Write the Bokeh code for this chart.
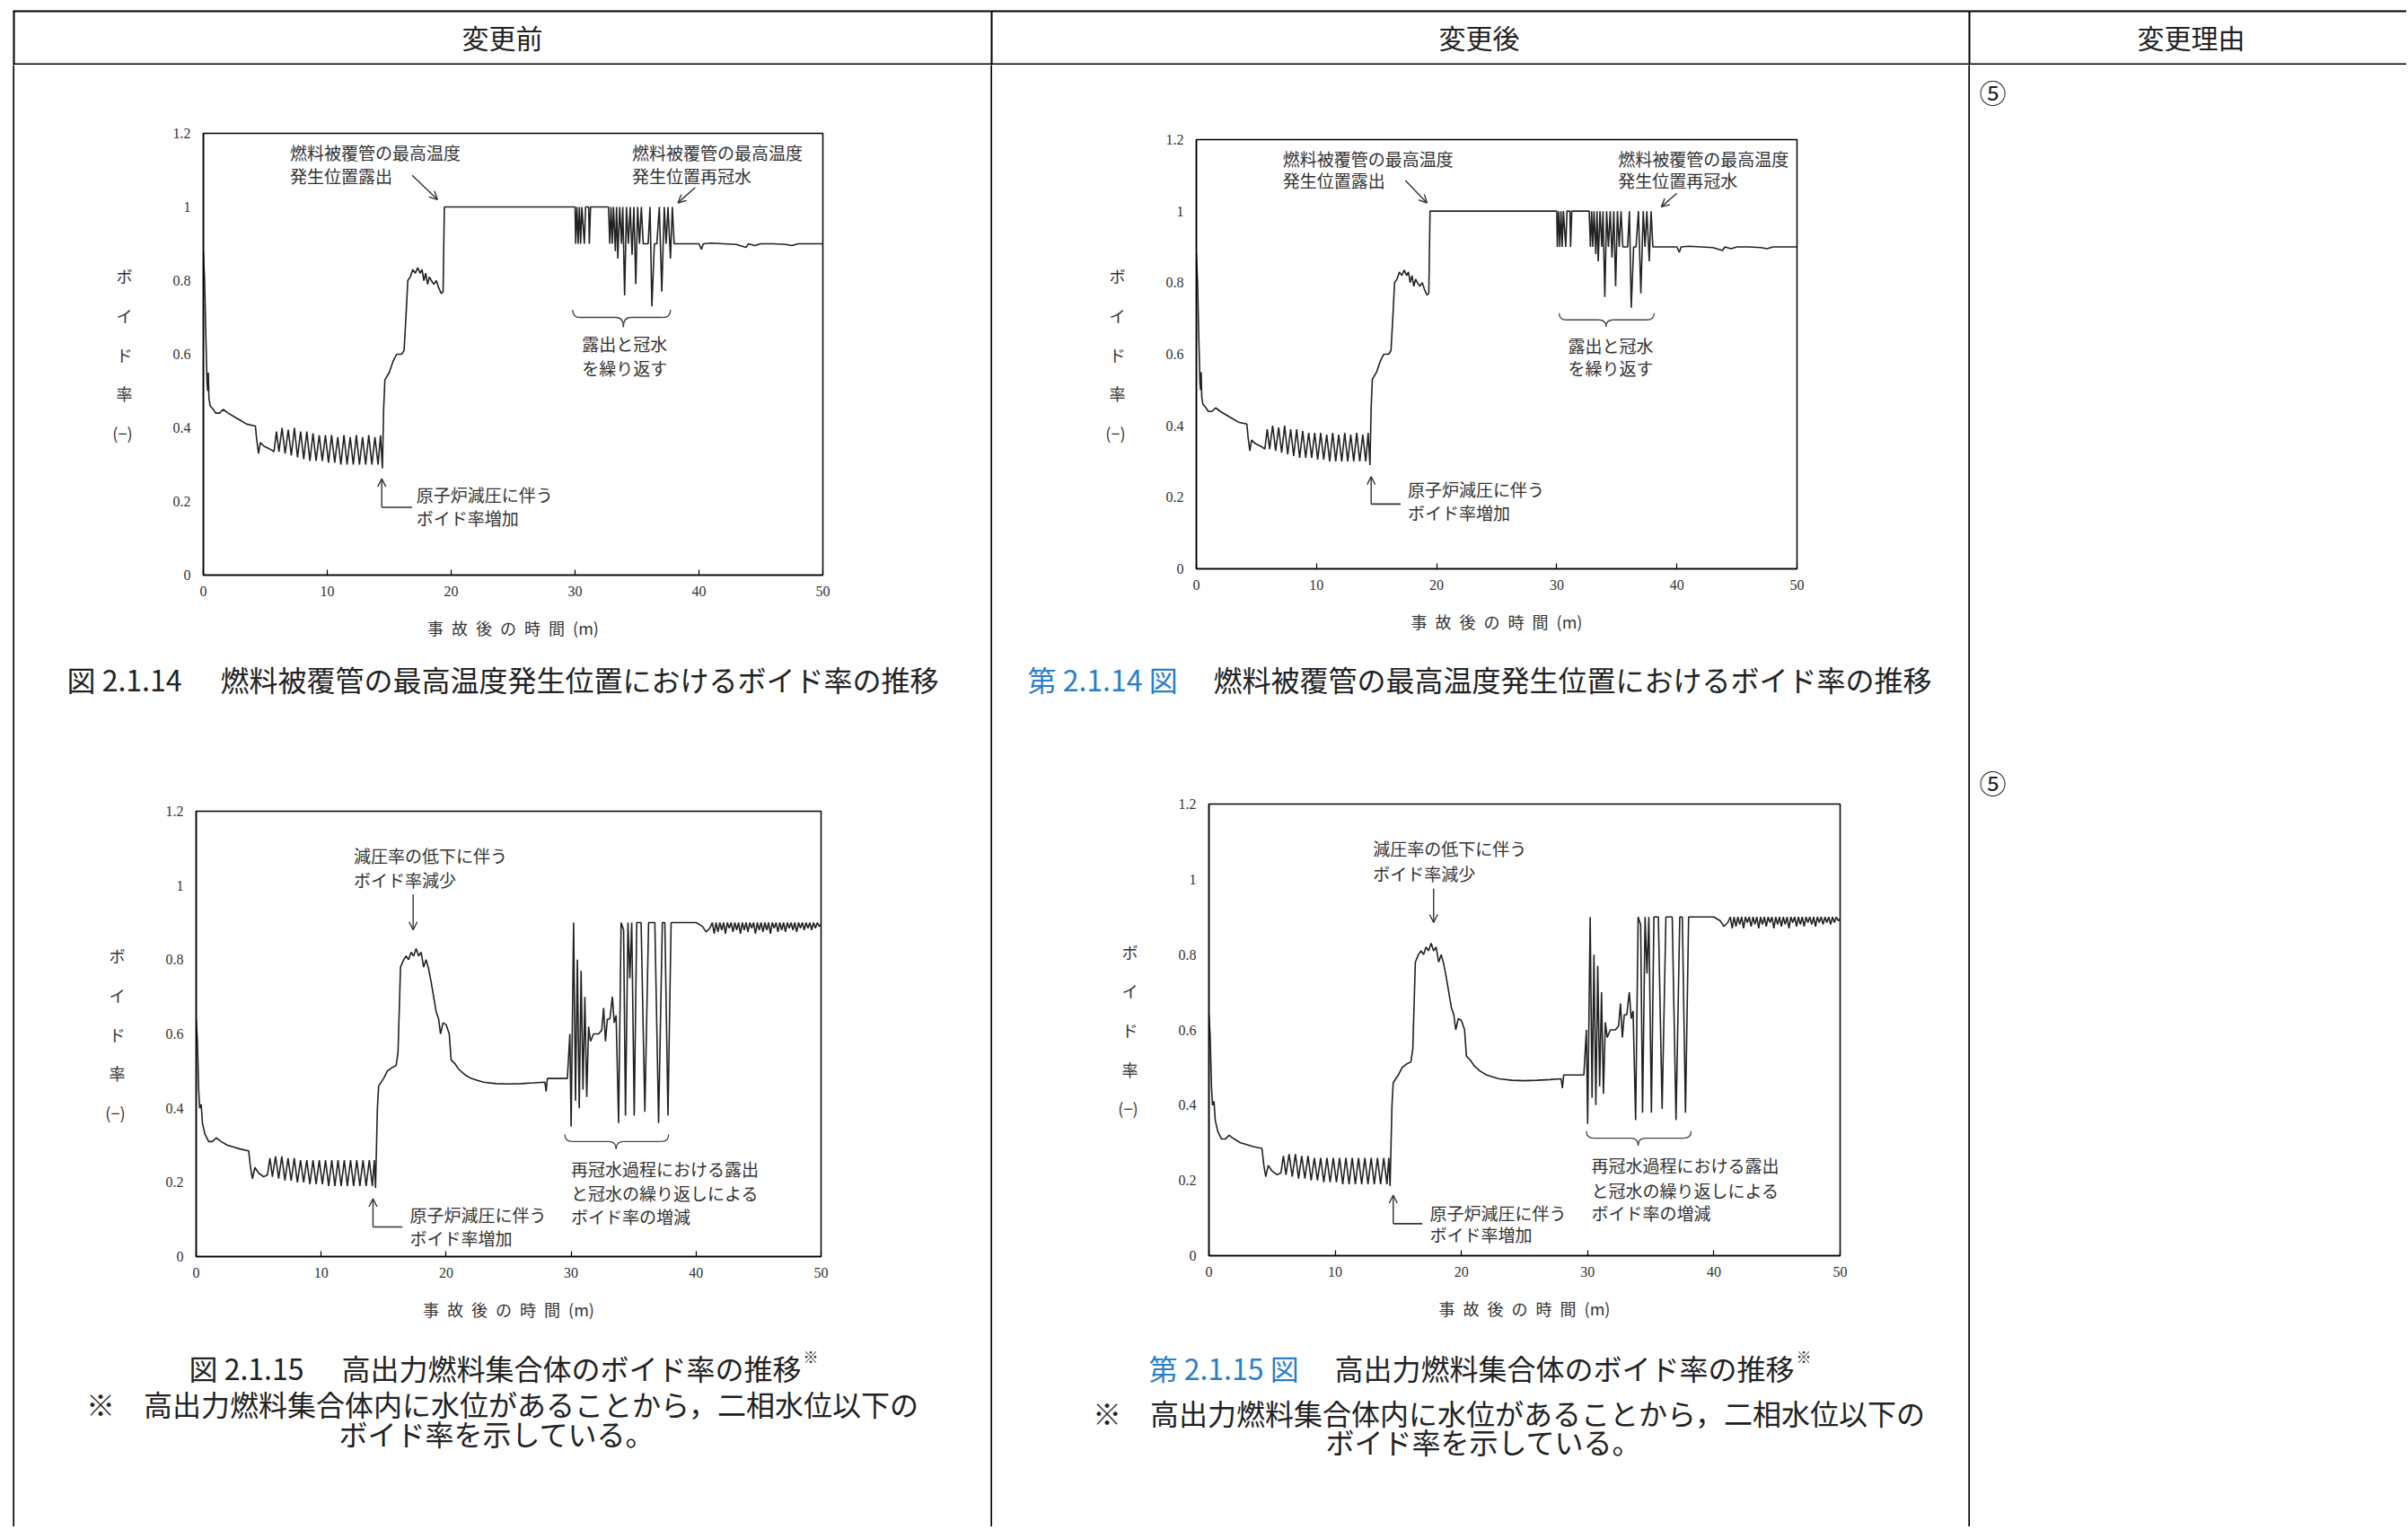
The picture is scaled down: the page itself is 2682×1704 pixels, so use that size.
from bokeh.plotting import figure
from bokeh.layouts import column, row
from bokeh.models import Range1d, Arrow, OpenHead, FixedTicker, NumeralTickFormatter, Spacer
from bokeh.core.properties import value
from bokeh.embed import file_html
from bokeh.resources import INLINE

JP = "Noto Sans CJK JP"
NUM = "Liberation Serif"
INK = "#222222"
BLUE = "#2a7fc9"

# ---------------- data ----------------
# void fraction at the location of peak cladding temperature
t_clad = [0.0, 0.1, 0.2, 0.3, 0.35, 0.4, 0.45, 0.55, 0.8, 1.0, 1.3, 1.6, 2.0, 2.5, 3.0, 3.5, 4.2, 4.3, 4.45, 4.6, 4.9, 5.2, 5.5, 5.7,
          5.9, 6.1, 6.35, 6.6, 6.85, 7.1, 7.35, 7.6, 7.85, 8.1, 8.35, 8.6, 8.85, 9.1, 9.35, 9.6, 9.85, 10.1, 10.35, 10.6,
          10.85, 11.1, 11.35, 11.6, 11.85, 12.1, 12.35, 12.6, 12.85, 13.1, 13.35, 13.6, 13.85, 14.1, 14.3, 14.45,
          14.55, 14.65, 15.0, 15.3, 15.6, 16.0, 16.2, 16.35, 16.5, 16.7, 16.9, 17.1, 17.3, 17.5, 17.65, 17.8, 17.95, 18.1,
          18.25, 18.4, 18.6, 18.8, 19.0, 19.2, 19.35, 19.45,
          30.0, 30.05, 30.15, 30.25, 30.35, 30.45, 30.55, 30.75, 30.85, 31.1, 31.15, 31.25,
          32.7, 32.8, 32.9, 33.0, 33.1, 33.25, 33.35, 33.45, 33.6, 33.75, 33.85, 34.0, 34.15, 34.3, 34.45, 34.6, 34.75,
          34.9, 35.05, 35.2, 35.35, 35.5, 35.9, 36.05, 36.2, 36.4, 36.6, 36.8, 37.0, 37.2, 37.35, 37.5, 37.7, 37.85, 38.0,
          39.0, 40.0, 40.2, 40.35, 41.0, 42.0, 43.0, 43.8, 44.0, 44.5, 45.0, 46.0, 47.0, 47.5, 48.0, 49.0, 50.0]
v_clad = [0.88, 0.80, 0.65, 0.52, 0.50, 0.55, 0.48, 0.46, 0.45, 0.44, 0.44, 0.45, 0.44, 0.43, 0.42, 0.41, 0.405, 0.37, 0.33, 0.36, 0.35, 0.345, 0.34, 0.335,
          0.39, 0.335, 0.40, 0.33, 0.395, 0.325, 0.40, 0.32, 0.39, 0.315, 0.39, 0.31, 0.385, 0.31, 0.38, 0.31, 0.38, 0.305, 0.38, 0.305,
          0.375, 0.30, 0.38, 0.30, 0.375, 0.30, 0.38, 0.30, 0.375, 0.30, 0.38, 0.30, 0.375, 0.30, 0.38, 0.29,
          0.45, 0.53, 0.55, 0.58, 0.60, 0.60, 0.61, 0.70, 0.80, 0.81, 0.83, 0.82, 0.835, 0.82, 0.83, 0.80, 0.82, 0.79,
          0.81, 0.80, 0.79, 0.80, 0.78, 0.765, 0.77, 1.0,
          1.0, 0.9, 1.0, 0.9, 1.0, 0.9, 1.0, 0.9, 1.0, 1.0, 0.9, 1.0,
          1.0, 0.9, 1.0, 0.9, 1.0, 0.88, 1.0, 0.86, 1.0, 0.9, 1.0, 0.76, 1.0, 0.9, 1.0, 0.87, 1.0,
          0.79, 1.0, 0.9, 1.0, 0.9, 0.9, 1.0, 0.73, 0.9, 0.9, 1.0, 0.77, 1.0, 0.9, 1.0, 0.86, 1.0, 0.90,
          0.90, 0.90, 0.885, 0.90, 0.902, 0.90, 0.898, 0.89, 0.90, 0.895, 0.90, 0.90, 0.898, 0.895, 0.90, 0.90, 0.90]

# void fraction of the high-power fuel assembly
t_bund = [0.0, 0.1, 0.2, 0.28, 0.4, 0.5, 0.7, 1.0, 1.3, 1.6, 2.0, 2.5, 3.0, 3.5, 4.2, 4.35, 4.5, 4.7, 5.0, 5.4, 5.7,
          5.9, 6.1, 6.35, 6.6, 6.85, 7.1, 7.35, 7.6, 7.85, 8.1, 8.35, 8.6, 8.85, 9.1, 9.35, 9.6, 9.85, 10.1, 10.35, 10.6,
          10.85, 11.1, 11.35, 11.6, 11.85, 12.1, 12.35, 12.6, 12.85, 13.1, 13.35, 13.6, 13.85, 14.1, 14.25, 14.35,
          14.5, 14.6, 15.0, 15.3, 15.7, 16.0, 16.15, 16.35, 16.6, 16.8, 17.0, 17.2, 17.4, 17.6, 17.8, 18.0, 18.2, 18.4,
          18.6, 18.8, 19.0, 19.2, 19.4, 19.55, 19.75, 20.0, 20.25, 20.4, 20.7, 21.0, 21.5, 22.0, 22.5, 23.0, 24.0, 25.0,
          26.0, 27.0, 27.9, 28.0, 28.1, 28.5, 29.0, 29.7,
          29.9, 30.0, 30.2, 30.35, 30.5, 30.65, 30.8, 30.95, 31.1, 31.25, 31.4, 31.55, 31.8, 32.2, 32.45, 32.6, 32.75, 32.9,
          33.1, 33.3, 33.45, 33.6, 33.8, 34.0, 34.2, 34.35, 34.55, 34.7, 34.85, 35.05, 35.25, 35.6, 35.9, 36.2, 36.7, 37.0,
          37.3, 37.5, 37.75, 38.0,
          39.0, 40.0, 40.5, 40.8, 41.1, 41.3, 41.45, 41.6, 41.75, 41.9, 42.05, 42.2, 42.35, 42.5, 42.65, 42.8, 42.95,
          43.1, 43.25, 43.4, 43.55, 43.7, 43.85, 44.0, 44.15, 44.3, 44.45, 44.6, 44.75, 44.9, 45.05, 45.2, 45.35, 45.5,
          45.65, 45.8, 45.95, 46.1, 46.25, 46.4, 46.55, 46.7, 46.85, 47.0, 47.15, 47.3, 47.45, 47.6, 47.75, 47.9, 48.05,
          48.2, 48.35, 48.5, 48.65, 48.8, 48.95, 49.1, 49.25, 49.4, 49.55, 49.7, 49.85, 50.0]
v_bund = [0.64, 0.58, 0.45, 0.40, 0.41, 0.36, 0.33, 0.31, 0.31, 0.32, 0.31, 0.30, 0.295, 0.29, 0.285, 0.24, 0.21, 0.24, 0.225, 0.215, 0.22,
          0.265, 0.215, 0.27, 0.21, 0.27, 0.205, 0.265, 0.205, 0.265, 0.20, 0.26, 0.20, 0.26, 0.195, 0.26, 0.195, 0.26, 0.195, 0.26, 0.19,
          0.26, 0.19, 0.26, 0.19, 0.26, 0.19, 0.26, 0.19, 0.26, 0.19, 0.26, 0.19, 0.26, 0.19, 0.26, 0.185,
          0.40, 0.46, 0.48, 0.50, 0.51, 0.515, 0.55, 0.78, 0.80, 0.81, 0.80, 0.82, 0.81, 0.83, 0.81, 0.82, 0.78, 0.80,
          0.775, 0.74, 0.70, 0.66, 0.64, 0.60, 0.63, 0.625, 0.60, 0.53, 0.52, 0.505, 0.49, 0.48, 0.475, 0.47, 0.466, 0.465,
          0.466, 0.468, 0.47, 0.445, 0.48, 0.48, 0.48, 0.48,
          0.60, 0.35, 0.90, 0.42, 0.80, 0.40, 0.77, 0.45, 0.70, 0.43, 0.62, 0.58, 0.60, 0.60, 0.61, 0.67, 0.58, 0.64,
          0.64, 0.70, 0.63, 0.65, 0.36, 0.90, 0.88, 0.38, 0.90, 0.75, 0.90, 0.38, 0.90, 0.90, 0.39, 0.90, 0.90, 0.36,
          0.90, 0.90, 0.38, 0.90,
          0.90, 0.90, 0.89, 0.875, 0.885, 0.90, 0.87, 0.90, 0.875, 0.90, 0.88, 0.90, 0.87, 0.90, 0.885, 0.90, 0.875,
          0.90, 0.88, 0.90, 0.87, 0.90, 0.88, 0.90, 0.875, 0.90, 0.885, 0.90, 0.87, 0.90, 0.88, 0.90, 0.875, 0.90,
          0.88, 0.90, 0.87, 0.90, 0.885, 0.90, 0.875, 0.90, 0.88, 0.90, 0.875, 0.90, 0.885, 0.90, 0.88, 0.90, 0.875,
          0.90, 0.885, 0.90, 0.88, 0.90, 0.885, 0.90, 0.88, 0.90, 0.885, 0.90, 0.89, 0.895]

x_ticks = [0, 10, 20, 30, 40, 50]
y_ticks = [0, 0.2, 0.4, 0.6, 0.8, 1.0, 1.2]
x_label = "事\u2002故\u2002後\u2002の\u2002時\u2002間\u2002(m)"
y_label = "ボ\nイ\nド\n率\n(−)"

header_texts = ["変更前", "変更後", "変更理由"]
reason_marks = ["⑤", "⑤"]

# annotations (data units of each chart)
c1_left = dict(x=[7.0, 7.0, 34.6, 34.6, 17.2, 17.2], y=[1.149, 1.086, 1.149, 1.086, 0.22, 0.156],
               text=["燃料被覆管の最高温度", "発生位置露出", "燃料被覆管の最高温度", "発生位置再冠水", "原子炉減圧に伴う", "ボイド率増加"])
c1_center = dict(x=[34.0, 34.0], y=[0.63, 0.564], text=["露出と冠水", "を繰り返す"])
c1_arrows = [(16.85, 1.086, 18.9, 1.02), (39.7, 1.053, 38.3, 1.011), (14.4, 0.184, 14.4, 0.262)]
c1_legs = [(14.4, 0.184, 16.85, 0.184)]
c1_brace = (29.8, 37.7, 33.9, 0.721, 0.700, 0.674)

c2_left = dict(x=[7.2, 7.2, 35.1, 35.1, 17.6, 17.6], y=[1.148, 1.086, 1.148, 1.086, 0.224, 0.157],
               text=["燃料被覆管の最高温度", "発生位置露出", "燃料被覆管の最高温度", "発生位置再冠水", "原子炉減圧に伴う", "ボイド率増加"])
c2_center = dict(x=[34.5, 34.5], y=[0.625, 0.562], text=["露出と冠水", "を繰り返す"])
c2_arrows = [(17.4, 1.086, 19.2, 1.023), (40.0, 1.05, 38.7, 1.012), (14.55, 0.181, 14.55, 0.258)]
c2_legs = [(14.55, 0.181, 17.0, 0.181)]
c2_brace = (30.2, 38.1, 34.1, 0.715, 0.696, 0.677)

c3_left = dict(x=[12.6, 12.6, 17.1, 17.1, 30.0, 30.0, 30.0], y=[1.082, 1.015, 0.113, 0.051, 0.238, 0.171, 0.108],
               text=["減圧率の低下に伴う", "ボイド率減少", "原子炉減圧に伴う", "ボイド率増加",
                     "再冠水過程における露出", "と冠水の繰り返しによる", "ボイド率の増減"])
c3_center = dict(x=[], y=[], text=[])
c3_arrows = [(17.36, 0.976, 17.36, 0.88), (14.15, 0.08, 14.15, 0.156)]
c3_legs = [(14.15, 0.08, 16.5, 0.08)]
c3_brace = (29.5, 37.8, 33.6, 0.329, 0.310, 0.290)

c4_left = dict(x=[13.0, 13.0, 17.5, 17.5, 30.3, 30.3, 30.3], y=[1.083, 1.017, 0.114, 0.057, 0.241, 0.175, 0.114],
               text=["減圧率の低下に伴う", "ボイド率減少", "原子炉減圧に伴う", "ボイド率増加",
                     "再冠水過程における露出", "と冠水の繰り返しによる", "ボイド率の増減"])
c4_center = dict(x=[], y=[], text=[])
c4_arrows = [(17.8, 0.975, 17.8, 0.885), (14.6, 0.085, 14.6, 0.161)]
c4_legs = [(14.6, 0.085, 16.9, 0.085)]
c4_brace = (29.9, 38.2, 34.0, 0.331, 0.312, 0.293)

cap_14_prefix_old = "図 2.1.14"
cap_14_prefix_new = "第 2.1.14 図"
cap_14_body = "燃料被覆管の最高温度発生位置におけるボイド率の推移"
cap_15_prefix_old = "図 2.1.15"
cap_15_prefix_new = "第 2.1.15 図"
cap_15_body = "高出力燃料集合体のボイド率の推移"
note_line1 = "※　高出力燃料集合体内に水位があることから，二相水位以下の"
note_line2 = "ボイド率を示している。"


# ---------------- helpers ----------------
def no_align(p):
    if hasattr(p, "frame_align"):
        p.frame_align = False
    return p


def canvas(w, h, bg="white"):
    p = figure(width=w, height=h, x_range=Range1d(0, w), y_range=Range1d(h, 0),
               output_backend="svg", toolbar_location=None, tools="", min_border=0,
               x_axis_location=None, y_axis_location=None)
    p.xgrid.visible = False
    p.ygrid.visible = False
    p.outline_line_color = None
    p.background_fill_color = bg
    p.border_fill_color = bg
    return no_align(p)


def txt(p, x, y, s, size, align="left", color=INK, font=JP):
    p.text(x=[x], y=[y], text=[s], text_font=value(font), text_font_size=size,
           text_align=align, text_baseline="middle", text_color=color)


def vline(h):
    p = canvas(2, h, bg="black")
    p.quad(left=[0], right=[2], top=[0], bottom=[h], fill_color="black", line_color=None)
    return p


def chart(w, h, bl, br, bt, bb, t, v, left, center, arrows, legs, brace):
    p = figure(width=w, height=h, x_range=Range1d(0, 50), y_range=Range1d(0, 1.2),
               output_backend="svg", toolbar_location=None, tools="",
               min_border_left=bl, min_border_right=br, min_border_top=bt, min_border_bottom=bb)
    no_align(p)
    p.xgrid.visible = False
    p.ygrid.visible = False
    p.background_fill_color = "white"
    p.border_fill_color = "white"
    p.outline_line_color = "black"
    p.outline_line_width = 1.5
    p.outline_line_alpha = 1.0
    p.xaxis.ticker = FixedTicker(ticks=x_ticks)
    p.yaxis.ticker = FixedTicker(ticks=y_ticks)
    p.yaxis.formatter = NumeralTickFormatter(format="0.[0]")
    p.axis.axis_line_color = "black"
    p.axis.axis_line_width = 1.5
    p.axis.major_tick_line_color = "black"
    p.axis.major_tick_line_width = 1.2
    p.xaxis.major_tick_in = 6
    p.xaxis.major_tick_out = 0
    p.yaxis.major_tick_in = 0
    p.yaxis.major_tick_out = 0
    p.axis.minor_tick_line_color = None
    p.axis.major_label_text_font = NUM
    p.axis.major_label_text_font_size = "16px"
    p.axis.major_label_text_color = "#333333"
    p.xaxis.major_label_standoff = 12
    p.yaxis.major_label_standoff = 14
    p.xaxis.axis_label = x_label
    p.yaxis.axis_label = y_label
    p.axis.axis_label_text_font = JP
    p.axis.axis_label_text_font_style = "normal"
    p.xaxis.axis_label_text_font_size = "18px"
    p.yaxis.axis_label_text_font_size = "18px"
    p.axis.axis_label_text_color = "#333333"
    p.xaxis.axis_label_standoff = 19
    p.yaxis.axis_label_standoff = 42
    p.yaxis.axis_label_orientation = "horizontal"
    p.yaxis.axis_label_text_line_height = 1.68

    p.line(t, v, line_color=INK, line_width=1.6)

    p.text(x=left["x"], y=left["y"], text=left["text"], text_font=value(JP), text_font_size="19px",
           text_align="left", text_baseline="middle", text_color="#333333")
    if center["x"]:
        p.text(x=center["x"], y=center["y"], text=center["text"], text_font=value(JP), text_font_size="19px",
               text_align="center", text_baseline="middle", text_color="#333333")
    for (x0, y0, x1, y1) in arrows:
        p.add_layout(Arrow(end=OpenHead(size=9, line_width=1.4, line_color="#333333"),
                           x_start=x0, y_start=y0, x_end=x1, y_end=y1,
                           line_width=1.4, line_color="#333333"))
    p.segment(x0=[s[0] for s in legs], y0=[s[1] for s in legs], x1=[s[2] for s in legs], y1=[s[3] for s in legs],
              line_color="#333333", line_width=1.6)
    bx0, bx1, bxc, byt, bym, byb = brace
    d = 0.6
    p.quadratic(x0=[bx0, bxc - d, bxc, bx1 - d], y0=[byt, bym, byb, bym],
                x1=[bx0 + d, bxc, bxc + d, bx1], y1=[bym, byb, bym, byt],
                cx=[bx0, bxc, bxc, bx1], cy=[bym, bym, bym, bym], line_color="#444444", line_width=1.3)
    p.segment(x0=[bx0 + d, bxc + d], y0=[bym, bym], x1=[bxc - d, bx1 - d], y1=[bym, bym],
              line_color="#444444", line_width=1.3)
    return p


# ---------------- header (page has no margin: full-picture pixel coordinates) ----------------
W, H = 2680, 1700
HEAD = 72
BODY = H - HEAD

head = canvas(W, HEAD)
head.segment(x0=[14, 14], y0=[12, 71], x1=[W, W], y1=[12, 71], line_color="black", line_width=2)
head.segment(x0=[15, 1104, 2193], y0=[12, 12, 12], x1=[15, 1104, 2193], y1=[HEAD, HEAD, HEAD],
             line_color="black", line_width=2)
for cx, s in zip([559, 1647, 2440], header_texts):
    txt(head, cx, 40, s, "30px", align="center")

# ---------------- column A (before) ----------------
CW = 1087
chA1 = chart(CW, 648, 210, 187, 76, 80, t_clad, v_clad, c1_left, c1_center, c1_arrows, c1_legs, c1_brace)
capA1 = canvas(CW, 80)
txt(capA1, 58, 35, cap_14_prefix_old, "32px")
txt(capA1, 229, 35, cap_14_body, "32px")
chA2 = chart(CW, 690, 202, 189, 103, 91, t_bund, v_bund, c3_left, c3_center, c3_arrows, c3_legs, c3_brace)
capA2 = canvas(CW, BODY - 648 - 80 - 690)
txt(capA2, 194, 32, cap_15_prefix_old, "32px")
txt(capA2, 364, 32, cap_15_body, "32px")
txt(capA2, 878, 20, "※", "17px")
txt(capA2, 543, 72, note_line1, "32px", align="center")
txt(capA2, 537, 105, note_line2, "32px", align="center")
colA = column(chA1, capA1, chA2, capA2, spacing=0)

# ---------------- column B (after) ----------------
chB1 = chart(CW, 648, 227, 191, 83, 87, t_clad, v_clad, c2_left, c2_center, c2_arrows, c2_legs, c2_brace)
capB1 = canvas(CW, 80)
txt(capB1, 39, 35, cap_14_prefix_new, "32px", color=BLUE)
txt(capB1, 246, 35, cap_14_body, "32px")
chB2 = chart(CW, 690, 241, 143, 95, 92, t_bund, v_bund, c4_left, c4_center, c4_arrows, c4_legs, c4_brace)
capB2 = canvas(CW, BODY - 648 - 80 - 690)
txt(capB2, 174, 32, cap_15_prefix_new, "32px", color=BLUE)
txt(capB2, 381, 32, cap_15_body, "32px")
txt(capB2, 895, 20, "※", "17px")
txt(capB2, 575, 82, note_line1, "32px", align="center")
txt(capB2, 547, 114, note_line2, "32px", align="center")
colB = column(chB1, capB1, chB2, capB2, spacing=0)

# ---------------- column C (reason) ----------------
colC = canvas(W - 2194, BODY)
for yy, s in zip([29, 798], reason_marks):
    txt(colC, 10, yy, s, "30px")

body = row(Spacer(width=14, height=BODY), vline(BODY), colA, vline(BODY), colB, vline(BODY), colC, spacing=0)
root = column(head, body, spacing=0)

open("out.html", "w").write(file_html(root, INLINE))
